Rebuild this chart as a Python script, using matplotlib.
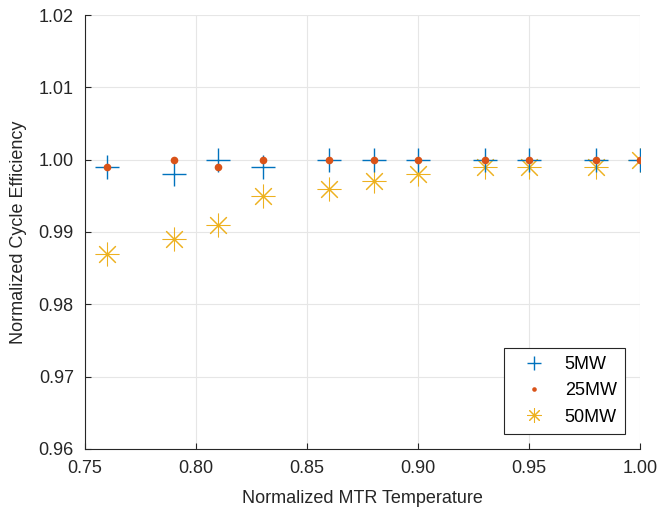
import matplotlib.pyplot as plt
import matplotlib.ticker as mticker

plt.rcParams['font.family'] = ['Liberation Sans', 'DejaVu Sans']

temp = [0.76, 0.79, 0.81, 0.83, 0.86, 0.88, 0.90, 0.93, 0.95, 0.98, 1.00]
eff_5mw = [0.999, 0.998, 1.000, 0.999, 1.000, 1.000, 1.000, 1.000, 1.000, 1.000, 1.000]
eff_25mw = [0.999, 1.000, 0.999, 1.000, 1.000, 1.000, 1.000, 1.000, 1.000, 1.000, 1.000]
eff_50mw = [0.987, 0.989, 0.991, 0.995, 0.996, 0.997, 0.998, 0.999, 0.999, 0.999, 1.000]

fig = plt.figure(figsize=(6.58, 5.14), dpi=100)
ax = fig.add_axes([0.129, 0.1265, 0.8436, 0.8443])

ax.plot(temp, eff_5mw, linestyle='none', marker='+', markersize=17, markeredgewidth=1,
        color='#0072BD', label='5MW', zorder=3)
ax.plot(temp, eff_25mw, linestyle='none', marker='o', markersize=5.5, markeredgewidth=0,
        color='#D95319', label='25MW', zorder=4)
ax.plot(temp, eff_50mw, linestyle='none', marker=(8, 2, 0), markersize=17, markeredgewidth=0.75,
        color='#EDB120', label='50MW', zorder=2)

ax.set_xlim(0.75, 1.00)
ax.set_ylim(0.96, 1.02)
ax.xaxis.set_major_locator(mticker.MultipleLocator(0.05))
ax.yaxis.set_major_locator(mticker.MultipleLocator(0.01))
ax.xaxis.set_major_formatter(mticker.FormatStrFormatter('%.2f'))
ax.yaxis.set_major_formatter(mticker.FormatStrFormatter('%.2f'))

ax.grid(True, color='#e6e6e6', linewidth=0.8)
ax.set_axisbelow(True)
for s in ['top', 'right']:
    ax.spines[s].set_visible(False)
for s in ['left', 'bottom']:
    ax.spines[s].set_color('#262626')
    ax.spines[s].set_linewidth(0.8)
ax.tick_params(direction='in', length=4, pad=8, color='#262626', labelcolor='#262626', labelsize=13)

ax.set_xlabel('Normalized MTR Temperature', fontsize=13, color='#262626', labelpad=9)
ax.set_ylabel('Normalized Cycle Efficiency', fontsize=13, color='#262626', labelpad=8)

leg = ax.legend(loc='lower right', bbox_to_anchor=(0.973, 0.035), fontsize=13, fancybox=False,
                edgecolor='#262626', framealpha=1, markerscale=0.6, handlelength=2.4,
                handletextpad=0.5, borderpad=0.45, labelspacing=0.52, borderaxespad=0)
leg.get_frame().set_linewidth(0.8)

fig.savefig('out.png', dpi=100)
